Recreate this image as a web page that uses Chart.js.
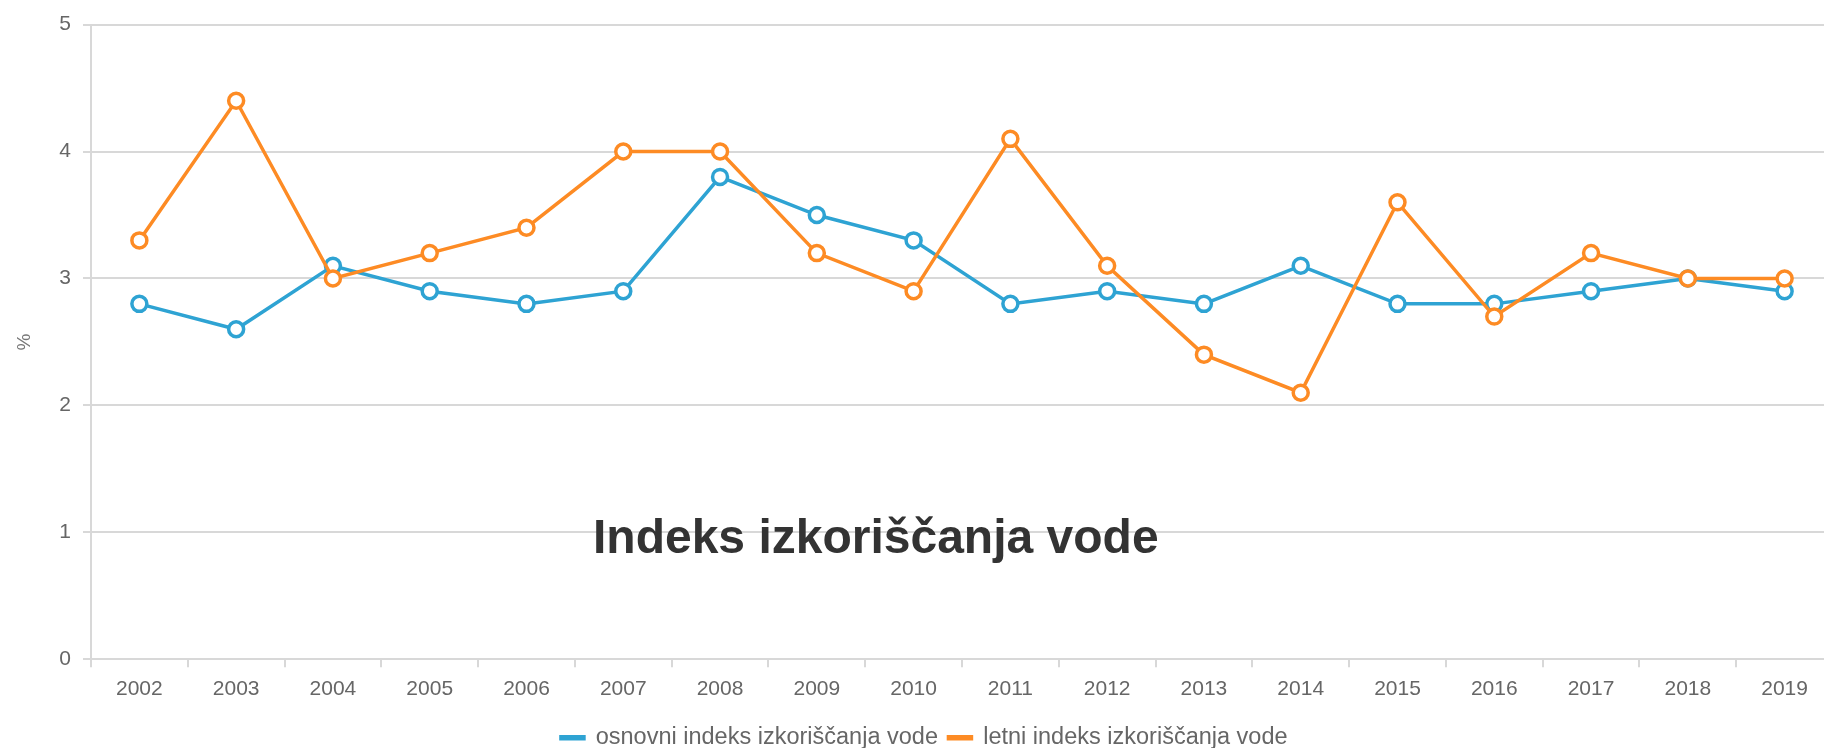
<!DOCTYPE html>
<html>
<head>
<meta charset="utf-8">
<script src="https://cdn.jsdelivr.net/npm/chart.js@4.4.0/dist/chart.umd.min.js"></script>
<style>
    body { margin: 0; background: #fff; overflow: hidden; }
    #wrap { position: relative; width: 1824px; height: 748px; overflow: hidden; }
    #naslov {
        position: absolute;
        left: 593px;
        top: 513px;
        font: bold 48px "Liberation Sans", Arial, sans-serif;
        line-height: 48px;
        color: #333;
        white-space: nowrap;
    }
</style>
</head>
<body>
<div id="wrap">
    <!-- platno je širše od okna: zadnja kategorija je v izvirniku odrezana -->
    <canvas id="vodaChart" width="1844" height="748"></canvas>
    <div id="naslov">Indeks izkoriščanja vode</div>
</div>
<script>
const leta = ["2002", "2003", "2004", "2005", "2006", "2007", "2008", "2009", "2010",
    "2011", "2012", "2013", "2014", "2015", "2016", "2017", "2018", "2019"];
const osnovni = [2.8, 2.6, 3.1, 2.9, 2.8, 2.9, 3.8, 3.5, 3.3, 2.8, 2.9, 2.8, 3.1, 2.8, 2.8, 2.9, 3.0, 2.9];
const letni = [3.3, 4.4, 3.0, 3.2, 3.4, 4.0, 4.0, 3.2, 2.9, 4.1, 3.1, 2.4, 2.1, 3.6, 2.7, 3.2, 3.0, 3.0];
const oznakeSerij = ["osnovni indeks izkoriščanja vode", "letni indeks izkoriščanja vode"];

const modra = "#2ea3d3";
const oranzna = "#fd8b24";

Chart.defaults.font.family = "'Liberation Sans', Arial, sans-serif";
Chart.defaults.color = "#666";

function serija(label, data, color, order) {
    return {
        label: label,
        data: data,
        borderColor: color,
        backgroundColor: color,
        borderWidth: 3.5,
        pointRadius: 7.5,
        pointHoverRadius: 7.5,
        pointBorderWidth: 3.5,
        pointBackgroundColor: "#FFFFFF",
        pointBorderColor: color,
        tension: 0,
        order: order,
    };
}

const ctx = document.getElementById("vodaChart").getContext("2d");
new Chart(ctx, {
    type: "line",
    data: {
        labels: leta,
        datasets: [
            serija(oznakeSerij[0], osnovni, modra, 1),
            serija(oznakeSerij[1], letni, oranzna, 0),
        ],
    },
    options: {
        responsive: false,
        animation: false,
        layout: {
            padding: { top: 15, right: 9, left: 13.5, bottom: -11.5 },
        },
        plugins: {
            legend: {
                position: "bottom",
                labels: {
                    boxWidth: 23,
                    boxHeight: 2,
                    padding: 10.5,
                    color: "#666",
                    font: { size: 23.5 },
                    sort: (a, b) => a.datasetIndex - b.datasetIndex,
                },
            },
            tooltip: { enabled: false },
        },
        scales: {
            x: {
                offset: true,
                afterFit: (scale) => {
                    scale.height += 5;
                },
                grid: {
                    offset: true,
                    drawOnChartArea: false,
                    drawTicks: true,
                    tickLength: 8,
                    color: "#d8d8d8",
                    lineWidth: 2,
                },
                border: { color: "#d8d8d8", width: 2 },
                ticks: {
                    padding: 9,
                    maxRotation: 0,
                    autoSkip: false,
                    font: { size: 21 },
                    color: "#666",
                },
            },
            y: {
                min: 0,
                max: 5,
                ticks: {
                    stepSize: 1,
                    padding: 12,
                    font: { size: 21 },
                    color: "#666",
                },
                grid: {
                    color: "#d8d8d8",
                    lineWidth: 2,
                    tickLength: 8,
                },
                border: { color: "#d8d8d8", width: 2 },
                title: {
                    display: true,
                    text: "%",
                    font: { size: 19 },
                    color: "#777",
                    padding: { top: 0, bottom: 11 },
                },
            },
        },
    },
});
</script>
</body>
</html>
